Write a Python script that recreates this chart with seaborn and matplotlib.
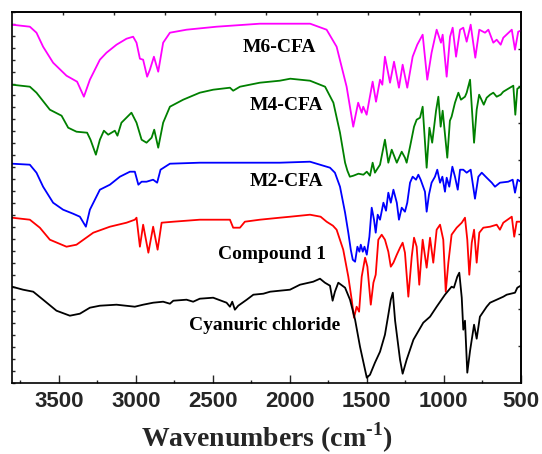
import numpy as np
import pandas as pd
import matplotlib
matplotlib.use("Agg")
import matplotlib.pyplot as plt
from matplotlib import font_manager
import seaborn as sns

# ---------------- data (wavenumber, transmittance a.u.) ----------------
m6_wn = [3805, 3689, 3646, 3603, 3538, 3451, 3382, 3338, 3299, 3234, 3191, 3126, 3061, 3018,
         2996, 2974, 2953, 2927, 2909, 2883, 2855, 2823, 2779, 2671, 2476, 2195, 2065, 1868,
         1761, 1696, 1631, 1588, 1556, 1533, 1523, 1501, 1462, 1440, 1414, 1399, 1382, 1349,
         1323, 1291, 1267, 1237, 1202, 1172, 1137, 1107, 1079, 1046, 1018, 1007, 981, 959,
         942, 920, 894, 873, 851, 825, 795, 769, 732, 710, 678, 656, 630, 613, 558, 537, 516, 500]
m6_t = [358, 356, 350, 336, 320, 307, 301, 286, 303, 323, 330, 338, 344, 346,
        340, 324, 323, 306, 313, 326, 311, 340, 350, 353, 356, 359, 359, 359,
        353, 336, 296, 256, 280, 270, 276, 268, 301, 281, 303, 298, 326, 300,
        321, 295, 318, 295, 326, 338, 348, 303, 330, 353, 340, 348, 306, 346,
        355, 326, 353, 355, 341, 358, 325, 353, 350, 353, 340, 343, 338, 345, 353, 333, 351, 352]

m4_wn = [3805, 3689, 3646, 3559, 3483, 3440, 3386, 3317, 3295, 3260, 3234, 3208, 3180, 3137,
         3120, 3094, 3029, 2996, 2963, 2931, 2898, 2881, 2855, 2823, 2779, 2693, 2585, 2498,
         2389, 2368, 2324, 2195, 2065, 1997, 1869, 1771, 1717, 1674, 1641, 1626, 1610, 1587,
         1554, 1522, 1500, 1479, 1462, 1447, 1435, 1414, 1382, 1360, 1338, 1305, 1273, 1252,
         1241, 1219, 1193, 1176, 1154, 1137, 1111, 1093, 1075, 1050, 1035, 1020, 1007, 977,
         960, 949, 927, 905, 888, 862, 851, 829, 803, 786, 770, 740, 721, 699, 678, 656,
         630, 613, 570, 548, 535, 522, 500]
m4_t = [298, 296, 290, 273, 267, 255, 251, 250, 243, 228, 243, 252, 248, 252,
        247, 260, 270, 260, 243, 240, 245, 253, 235, 260, 276, 283, 290, 293,
        295, 292, 296, 300, 302, 304, 302, 296, 280, 250, 220, 212, 206, 207,
        209, 208, 211, 207, 220, 210, 213, 218, 243, 220, 233, 220, 231, 225,
        220, 236, 256, 263, 265, 276, 215, 255, 240, 272, 286, 256, 272, 225,
        262, 266, 280, 290, 283, 286, 290, 303, 240, 273, 288, 278, 285, 288, 290, 286,
        288, 291, 295, 297, 268, 294, 296]

m2_wn = [3805, 3689, 3646, 3603, 3538, 3473, 3408, 3364, 3325, 3299, 3234, 3169, 3104, 3039,
         3007, 2984, 2963, 2931, 2888, 2862, 2840, 2779, 2585, 2065, 1869, 1739, 1707, 1674,
         1641, 1620, 1604, 1591, 1576, 1561, 1548, 1539, 1526, 1515, 1500, 1483, 1468, 1453,
         1442, 1429, 1414, 1392, 1375, 1360, 1344, 1327, 1305, 1291, 1273, 1252, 1237, 1219,
         1202, 1180, 1165, 1150, 1122, 1111, 1096, 1079, 1057, 1042, 1024, 1009, 992, 981,
         964, 944, 927, 909, 894, 873, 851, 825, 797, 775, 753, 721, 688, 667, 635, 581,
         552, 537, 520, 500]
m2_t = [219, 218, 210, 196, 180, 173, 169, 166, 156, 173, 193, 198, 206, 211,
        211, 198, 201, 201, 203, 200, 213, 219, 220, 220, 221, 215, 210, 196,
        170, 150, 133, 123, 121, 136, 131, 138, 131, 136, 128, 146, 175, 163,
        150, 168, 163, 180, 172, 190, 180, 193, 180, 163, 175, 171, 180, 200,
        206, 203, 208, 203, 191, 171, 188, 200, 206, 213, 200, 206, 191, 205,
        196, 216, 206, 193, 213, 213, 210, 213, 184, 206, 210, 205, 200, 196, 200, 201,
        203, 190, 203, 201]

c1_wn = [3805, 3689, 3624, 3559, 3451, 3386, 3277, 3169, 3061, 3007, 2996, 2974, 2953, 2919,
         2888, 2859, 2833, 2757, 2585, 2389, 2368, 2324, 2292, 2195, 2065, 1997, 1869, 1800,
         1761, 1720, 1696, 1653, 1620, 1598, 1583, 1566, 1550, 1533, 1511, 1496, 1474, 1457,
         1442, 1425, 1403, 1382, 1360, 1344, 1327, 1305, 1284, 1267, 1252, 1230, 1208, 1193,
         1176, 1159, 1137, 1111, 1089, 1068, 1046, 1024, 1003, 987, 970, 949, 916, 883,
         862, 847, 834, 818, 803, 786, 769, 743, 699, 656, 635, 613, 558, 542, 526, 500]
c1_t = [165, 163, 155, 143, 136, 138, 150, 156, 160, 163, 165, 136, 158, 130,
        156, 133, 160, 161, 163, 163, 155, 155, 161, 163, 165, 166, 168, 166,
        161, 157, 153, 133, 106, 83, 65, 76, 71, 106, 125, 116, 78, 100,
        108, 143, 148, 143, 131, 116, 120, 128, 135, 140, 130, 86, 126, 145,
        136, 98, 143, 115, 145, 120, 153, 158, 143, 91, 120, 148, 155, 160,
        165, 143, 108, 140, 153, 120, 150, 155, 156, 158, 153, 160, 166, 146, 161, 161]

cc_wn = [3805, 3733, 3667, 3603, 3516, 3429, 3364, 3299, 3234, 3126, 3007, 2953, 2888, 2823,
         2779, 2757, 2671, 2628, 2585, 2498, 2411, 2389, 2374, 2357, 2335, 2280, 2237, 2172,
         2128, 2065, 1999, 1934, 1848, 1804, 1772, 1739, 1722, 1707, 1685, 1641, 1609, 1576,
         1544, 1500, 1479, 1447, 1414, 1382, 1360, 1344, 1331, 1316, 1284, 1267, 1241, 1197,
         1133, 1089, 1046, 992, 949, 934, 912, 899, 883, 873, 862, 847, 829, 803,
         786, 765, 721, 699, 656, 613, 591, 537, 522, 500]
cc_t = [96, 93, 91, 83, 72, 67, 69, 75, 77, 78, 76, 78, 80, 81,
        79, 82, 83, 81, 84, 85, 80, 76, 81, 73, 77, 83, 88, 89,
        91, 92, 93, 98, 101, 104, 100, 97, 82, 91, 100, 95, 83, 63,
        36, 5, 8, 20, 31, 48, 68, 83, 90, 62, 23, 9, 23, 43,
        60, 66, 76, 88, 96, 95, 106, 110, 85, 53, 62, 10, 32, 58,
        44, 66, 76, 80, 83, 86, 88, 90, 95, 97]

samples = ["M6-CFA", "M4-CFA", "M2-CFA", "Compound 1", "Cyanuric chloride"]
colors = ["#ff00ff", "#008000", "#0000ff", "#ff0000", "#000000"]
series = [(m6_wn, m6_t), (m4_wn, m4_t), (m2_wn, m2_t), (c1_wn, c1_t), (cc_wn, cc_t)]
x_ticks = [3500, 3000, 2500, 2000, 1500, 1000, 500]

# label layout (left x in cm-1, baseline y)
label_pos = [(2304, 331), (2259, 273), (2259, 197), (2467, 124), (2655, 53)]

# ---------------- figure ----------------
sns.set_theme(style="white")
plt.rcParams["font.family"] = ["Liberation Sans", "DejaVu Sans"]
plt.rcParams["mathtext.fontset"] = "custom"
plt.rcParams["mathtext.rm"] = "Liberation Serif:bold"
plt.rcParams["mathtext.bf"] = "Liberation Serif:bold"

names = {f.name for f in font_manager.fontManager.ttflist}
tick_family = ["Liberation Sans Narrow", "Liberation Sans"] if "Liberation Sans Narrow" in names else ["Liberation Sans"]
tick_size = 18 if "Liberation Sans Narrow" in names else 16

frames = []
for name, (wn, t) in zip(samples, series):
    frames.append(pd.DataFrame({"wn": wn, "T": t, "sample": name}))
df = pd.concat(frames, ignore_index=True)

fig = plt.figure(figsize=(5.42, 4.54), dpi=100)
fig.patch.set_facecolor("white")
ax = fig.add_axes([12 / 542, (454 - 382.7) / 454, (520.7 - 12) / 542, 371 / 454])
sns.lineplot(data=df, x="wn", y="T", hue="sample", palette=dict(zip(samples, colors)),
             estimator=None, sort=True, legend=False, linewidth=1.3, ax=ax)

xmin, xmax = 3805, 500
ax.set_xlim(xmin, xmax)
ax.set_ylim(0, 371)
ax.set_xlabel("Wavenumbers (cm$^{\\text{-1}}$)", fontsize=20, fontweight="bold",
              family="Liberation Serif", labelpad=6)
ax.set_ylabel("")

ax.set_xticks(x_ticks)
ax.set_xticks(np.arange(3750, 499, -250), minor=True)
ax.set_xticklabels([str(v) for v in x_ticks], fontsize=tick_size, fontweight="bold",
                   family=tick_family)
ax.set_yticks(np.linspace(0, 371, 32))
ax.set_yticklabels([])
ax.tick_params(axis="x", which="major", direction="in", length=5.5, width=1.0, pad=6,
               bottom=True, top=False)
ax.tick_params(axis="x", which="minor", direction="in", length=2.4, width=1.0,
               bottom=True, top=False)
ax.tick_params(axis="y", which="major", direction="in", length=2.0, width=1.0,
               left=True, right=False)

top = ax.secondary_xaxis("top")
top.set_xticks(np.linspace(xmin, xmax, 11)[1:-1])
top.set_xticklabels([])
top.tick_params(direction="in", length=2.0, width=1.0)
right = ax.secondary_yaxis("right")
right.set_yticks(np.linspace(0, 371, 11)[1:-1])
right.set_yticklabels([])
right.tick_params(direction="in", length=2.5, width=1.0)

for sp in list(ax.spines.values()) + list(top.spines.values()) + list(right.spines.values()):
    sp.set_linewidth(1.2)
    sp.set_color("black")

for name, (lx, ly) in zip(samples, label_pos):
    ax.text(lx, ly, name, ha="left", va="baseline", fontsize=14, fontweight="bold",
            family="Liberation Serif", color="black")

fig.savefig("out.png", dpi=100, facecolor="white")
